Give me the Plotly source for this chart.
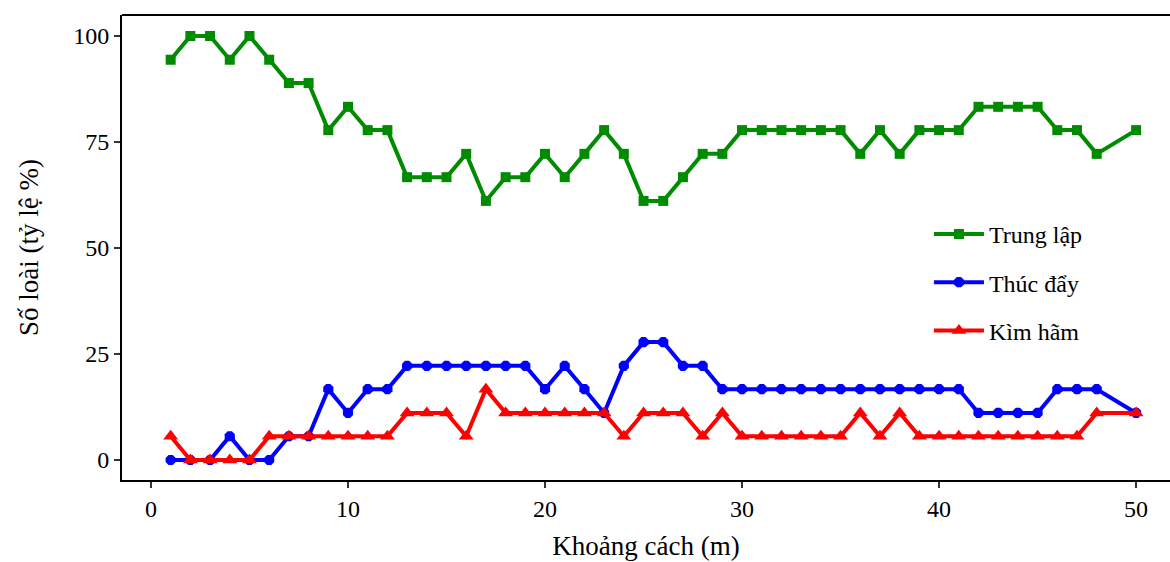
import plotly.graph_objects as go

x = [i for i in range(1, 49)] + [50]

trung_lap = [94.4, 100, 100, 94.4, 100, 94.4, 88.9, 88.9, 77.8, 83.3,
             77.8, 77.8, 66.7, 66.7, 66.7, 72.2, 61.1, 66.7, 66.7, 72.2,
             66.7, 72.2, 77.8, 72.2, 61.1, 61.1, 66.7, 72.2, 72.2, 77.8,
             77.8, 77.8, 77.8, 77.8, 77.8, 72.2, 77.8, 72.2, 77.8, 77.8,
             77.8, 83.3, 83.3, 83.3, 83.3, 77.8, 77.8, 72.2, 77.8]

thuc_day = [0, 0, 0, 5.6, 0, 0, 5.6, 5.6, 16.7, 11.1,
            16.7, 16.7, 22.2, 22.2, 22.2, 22.2, 22.2, 22.2, 22.2, 16.7,
            22.2, 16.7, 11.1, 22.2, 27.8, 27.8, 22.2, 22.2, 16.7, 16.7,
            16.7, 16.7, 16.7, 16.7, 16.7, 16.7, 16.7, 16.7, 16.7, 16.7,
            16.7, 11.1, 11.1, 11.1, 11.1, 16.7, 16.7, 16.7, 11.1]

kim_ham = [5.6, 0, 0, 0, 0, 5.6, 5.6, 5.6, 5.6, 5.6,
           5.6, 5.6, 11.1, 11.1, 11.1, 5.6, 16.7, 11.1, 11.1, 11.1,
           11.1, 11.1, 11.1, 5.6, 11.1, 11.1, 11.1, 5.6, 11.1, 5.6,
           5.6, 5.6, 5.6, 5.6, 5.6, 11.1, 5.6, 11.1, 5.6, 5.6,
           5.6, 5.6, 5.6, 5.6, 5.6, 5.6, 5.6, 11.1, 11.1]

x_ticks = [0, 10, 20, 30, 40, 50]
y_ticks = [0, 25, 50, 75, 100]

FONT = "Liberation Serif"

fig = go.Figure()
fig.add_trace(go.Scatter(x=x, y=trung_lap, mode="lines+markers", name="Trung lập",
                         legendgroup="a",
                         line=dict(color="#008B00", width=4),
                         marker=dict(symbol="square", size=10, color="#008B00")))
fig.add_trace(go.Scatter(x=x, y=thuc_day, mode="lines+markers", name="Thúc đẩy",
                         legendgroup="b",
                         line=dict(color="#0000FF", width=4),
                         marker=dict(symbol="octagon", size=11, color="#0000FF")))
fig.add_trace(go.Scatter(x=x, y=kim_ham, mode="lines+markers", name="Kìm hãm",
                         legendgroup="c",
                         line=dict(color="#FF0000", width=4),
                         marker=dict(symbol="triangle-up", size=13, color="#FF0000")))

fig.update_layout(
    width=1170, height=562,
    margin=dict(l=122, r=0, t=15, b=82),
    paper_bgcolor="white", plot_bgcolor="white",
    font=dict(family=FONT, size=24, color="black"),
    showlegend=True,
    legend=dict(x=0.770, y=0.425, xanchor="left", yanchor="middle",
                font=dict(family=FONT, size=24, color="black"),
                bgcolor="rgba(0,0,0,0)", tracegroupgap=14, itemwidth=50),
    shapes=[dict(type="line", xref="paper", yref="paper", x0=0, x1=1, y0=1, y1=1,
                 line=dict(color="black", width=2))],
)
fig.update_xaxes(range=[-1.47, 51.72], tickvals=x_ticks, showgrid=False, zeroline=False,
                 showline=True, linecolor="black", linewidth=2,
                 ticks="outside", ticklen=6, tickcolor="#333333", tickwidth=1.5,
                 tickfont=dict(family=FONT, size=24, color="black"),
                 title=dict(text="Khoảng cách (m)", font=dict(family=FONT, size=27), standoff=15))
fig.update_yaxes(range=[-4.72, 104.95], tickvals=y_ticks, showgrid=False, zeroline=False,
                 showline=True, linecolor="black", linewidth=2,
                 ticks="outside", ticklen=6, tickcolor="#333333", tickwidth=1.5,
                 tickfont=dict(family=FONT, size=24, color="black"),
                 title=dict(text="Số loài (tỷ lệ %)", font=dict(family=FONT, size=27), standoff=27))

fig.write_html("out.html")
